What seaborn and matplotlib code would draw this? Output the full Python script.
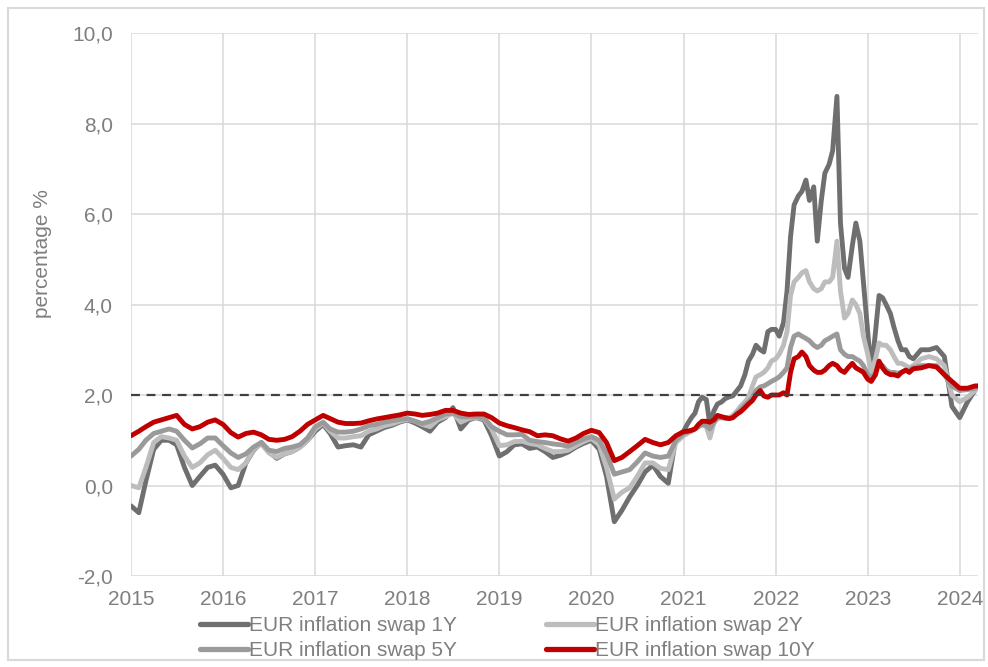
import pandas as pd
import seaborn as sns
import matplotlib.pyplot as plt
import matplotlib.dates as mdates
from matplotlib.ticker import FuncFormatter, MultipleLocator
from matplotlib.patches import Rectangle

# fechas: mensual hasta 2020, quincenal 2021-2023H1, mensual después
dates = (list(pd.date_range('2015-01-01', '2020-12-01', freq='MS'))
         + list(pd.date_range('2021-01-01', '2023-06-15', freq='SMS'))
         + list(pd.date_range('2023-07-01', '2024-03-01', freq='MS'))
         + [pd.Timestamp('2024-03-14')])

swap_1y = [
    -0.45, -0.6, 0.1, 0.8, 1.0, 1.0, 0.9, 0.4, 0.0, 0.2, 0.4, 0.45,
    0.25, -0.05, 0.0, 0.5, 0.78, 0.95, 0.75, 0.6, 0.7, 0.75, 0.85, 1.0,
    1.2, 1.35, 1.15, 0.85, 0.88, 0.9, 0.85, 1.12, 1.2, 1.28, 1.33, 1.4,
    1.45, 1.38, 1.3, 1.2, 1.4, 1.5, 1.72, 1.25, 1.45, 1.5, 1.45, 1.1,
    0.65, 0.75, 0.9, 0.92, 0.82, 0.85, 0.75, 0.62, 0.67, 0.74, 0.85, 0.93,
    1.0, 0.8, 0.2, -0.8, -0.55, -0.25, 0.0, 0.3, 0.45, 0.2, 0.05, 1.05,
    1.2, 1.35, 1.5, 1.6, 1.85, 1.95, 1.9, 1.35, 1.65, 1.8, 1.85, 1.92,
    1.96, 1.98, 2.1, 2.2, 2.45, 2.75, 2.9, 3.1, 3.0, 2.95, 3.4, 3.45,
    3.45, 3.3, 3.6, 4.3, 5.5, 6.2, 6.4, 6.5, 6.75, 6.3, 6.6, 5.4,
    6.3, 6.9, 7.1, 7.4, 8.6, 5.8, 4.8, 4.6, 5.3, 5.8, 5.4, 4.5,
    3.4, 2.5, 3.4, 4.2, 4.15, 4.0, 3.8, 3.5, 3.2, 3.0, 3.0, 2.85,
    2.8, 3.0, 3.0, 3.05, 2.85, 1.75, 1.5, 1.85, 2.1, 2.2]

swap_2y = [
    0.0, -0.05, 0.4, 0.95, 1.08, 1.05, 1.0, 0.65, 0.4, 0.5, 0.68, 0.78,
    0.6, 0.4, 0.35, 0.5, 0.8, 0.92, 0.72, 0.62, 0.7, 0.75, 0.85, 1.0,
    1.25, 1.38, 1.2, 1.05, 1.05, 1.08, 1.1, 1.2, 1.25, 1.32, 1.36, 1.42,
    1.46, 1.42, 1.35, 1.3, 1.45, 1.52, 1.6, 1.4, 1.48, 1.5, 1.48, 1.25,
    0.88, 0.9, 0.97, 0.98, 0.93, 0.9, 0.82, 0.75, 0.75, 0.78, 0.88, 0.97,
    1.04, 0.9, 0.4, -0.3, -0.15, -0.05, 0.2, 0.5, 0.5, 0.38, 0.35, 0.95,
    1.1, 1.15, 1.2, 1.25, 1.3, 1.35, 1.3, 1.05, 1.38, 1.48, 1.5, 1.5,
    1.5, 1.55, 1.65, 1.75, 1.85, 1.95, 2.2, 2.4, 2.45, 2.5, 2.6, 2.75,
    2.8, 2.9, 3.1, 3.4, 4.2, 4.5, 4.6, 4.7, 4.75, 4.5, 4.35, 4.3,
    4.35, 4.5, 4.5, 4.6, 5.4, 4.3, 3.7, 3.8, 4.1, 4.0, 3.8, 3.3,
    2.9, 2.5, 2.8, 3.15, 3.1, 3.1, 3.0, 2.85, 2.7, 2.7, 2.65, 2.6,
    2.65, 2.8, 2.85, 2.8, 2.65, 2.0, 1.85, 1.95, 2.1, 2.2]

swap_5y = [
    0.65, 0.8, 1.0, 1.15, 1.2, 1.25, 1.2, 1.0, 0.83, 0.92, 1.05, 1.05,
    0.88, 0.72, 0.62, 0.7, 0.85, 0.95, 0.78, 0.75, 0.82, 0.85, 0.9, 1.05,
    1.3, 1.4, 1.25, 1.18, 1.18, 1.2, 1.25, 1.32, 1.35, 1.4, 1.43, 1.46,
    1.48, 1.42, 1.37, 1.42, 1.5, 1.58, 1.6, 1.52, 1.52, 1.52, 1.5, 1.3,
    1.2, 1.12, 1.12, 1.13, 1.0, 0.97, 0.95, 0.92, 0.9, 0.87, 0.95, 1.03,
    1.08, 1.0, 0.7, 0.25, 0.3, 0.35, 0.52, 0.72, 0.65, 0.62, 0.65, 1.0,
    1.15, 1.18, 1.22, 1.25, 1.3, 1.35, 1.33, 1.25, 1.4, 1.5, 1.5, 1.48,
    1.48, 1.5, 1.6, 1.68, 1.78, 1.85, 1.95, 2.1, 2.18, 2.2, 2.25, 2.3,
    2.35, 2.4, 2.5, 2.6, 3.05, 3.3, 3.35, 3.3, 3.25, 3.2, 3.1, 3.05,
    3.1, 3.2, 3.25, 3.3, 3.35, 3.0, 2.9, 2.85, 2.85, 2.8, 2.75, 2.65,
    2.45, 2.35, 2.5, 2.7, 2.65, 2.55, 2.5, 2.5, 2.48, 2.5, 2.55, 2.55,
    2.6, 2.65, 2.65, 2.65, 2.45, 2.2, 2.1, 2.12, 2.15, 2.2]

swap_10y = [
    1.1, 1.2, 1.3, 1.4, 1.45, 1.5, 1.55, 1.35, 1.25, 1.3, 1.4, 1.45,
    1.35, 1.17, 1.07, 1.15, 1.18, 1.12, 1.02, 1.0, 1.02, 1.08, 1.2, 1.35,
    1.45, 1.55, 1.48, 1.4, 1.37, 1.37, 1.38, 1.43, 1.47, 1.5, 1.53, 1.56,
    1.6, 1.58, 1.55, 1.57, 1.6, 1.66, 1.66, 1.6, 1.57, 1.58, 1.58, 1.5,
    1.38, 1.32, 1.28, 1.23, 1.19, 1.1, 1.12, 1.1, 1.03, 0.98, 1.05, 1.15,
    1.22, 1.17, 0.95, 0.55, 0.62, 0.75, 0.88, 1.02, 0.95, 0.9, 0.95, 1.1,
    1.19, 1.2, 1.22, 1.25, 1.35, 1.42, 1.42, 1.4, 1.45, 1.55, 1.52, 1.5,
    1.48, 1.5, 1.58, 1.63, 1.72, 1.8, 1.88, 2.0, 2.1, 1.98, 1.95, 2.0,
    2.0, 2.0, 2.05, 2.0, 2.5, 2.8, 2.85, 2.95, 2.85, 2.65, 2.55, 2.5,
    2.5, 2.55, 2.65, 2.7, 2.65, 2.55, 2.5, 2.6, 2.7, 2.6, 2.55, 2.5,
    2.35, 2.3, 2.45, 2.75, 2.6, 2.5, 2.45, 2.45, 2.42, 2.5, 2.55, 2.5,
    2.58, 2.6, 2.65, 2.62, 2.45, 2.3, 2.15, 2.15, 2.2, 2.2]

series_names = ['EUR inflation swap 1Y', 'EUR inflation swap 2Y',
                'EUR inflation swap 5Y', 'EUR inflation swap 10Y']
series_colors = ['#6f6f6f', '#bdbdbd', '#9a9a9a', '#c00000']

# objetivo de inflación del BCE
target_level = 2.0
target_start = pd.Timestamp('2015-01-01')
target_end = pd.Timestamp('2024-01-01')

sns.set_theme(style="white")
plt.rcParams['font.family'] = ['Liberation Sans', 'DejaVu Sans']
grey_txt = '#7f7f7f'
grid_col = '#d9d9d9'

fig = plt.figure(figsize=(9.88, 6.67), dpi=100)
ax = fig.add_axes([0.1326, 0.1364, 0.8574, 0.8141])

for name, vals, col in zip(series_names, [swap_1y, swap_2y, swap_5y, swap_10y], series_colors):
    sns.lineplot(x=dates, y=vals, color=col, linewidth=3.5, label=name, ax=ax,
                 solid_capstyle='round', zorder=3)

ax.hlines(target_level, target_start, target_end, colors='#404040',
          linewidth=1.6, linestyles=(0, (4, 3)), zorder=4)

ax.set_xlim(pd.Timestamp('2015-01-01'), pd.Timestamp('2024-03-14'))
ax.set_ylim(-2, 10)
ax.yaxis.set_major_locator(MultipleLocator(2))
ax.yaxis.set_major_formatter(FuncFormatter(lambda v, p: f"{v:.1f}".replace('.', ',')))
ax.xaxis.set_major_locator(mdates.YearLocator())
ax.xaxis.set_major_formatter(mdates.DateFormatter('%Y'))

ax.grid(True, color=grid_col, linewidth=1.1)
ax.set_axisbelow(True)
for s in ax.spines.values():
    s.set_visible(False)
ax.tick_params(axis='both', length=0, labelsize=15, labelcolor=grey_txt)
ax.tick_params(axis='y', pad=13)
ax.tick_params(axis='x', pad=10)

ax.set_xlabel('')
ax.set_ylabel('percentage %', fontsize=15, color=grey_txt)
ax.yaxis.set_label_coords(-0.093, 0.593)

handles, labels = ax.get_legend_handles_labels()
ax.get_legend().remove()
order = [0, 2, 1, 3]
leg = fig.legend([handles[i] for i in order], [labels[i] for i in order],
                 ncol=2, loc='upper left', bbox_to_anchor=(0.2024, 0.076),
                 frameon=False, fontsize=15, handlelength=2.3, handletextpad=0.05,
                 columnspacing=4.3, labelspacing=0.27, borderpad=0, borderaxespad=0)
for t in leg.get_texts():
    t.set_color(grey_txt)
for h in leg.get_lines():
    h.set_linewidth(3.8)

fig.patches.append(Rectangle((0.008, 0.01), 0.988, 0.978, transform=fig.transFigure,
                             fill=False, edgecolor=grid_col, linewidth=1.5))

fig.savefig('out.png', dpi=100)
